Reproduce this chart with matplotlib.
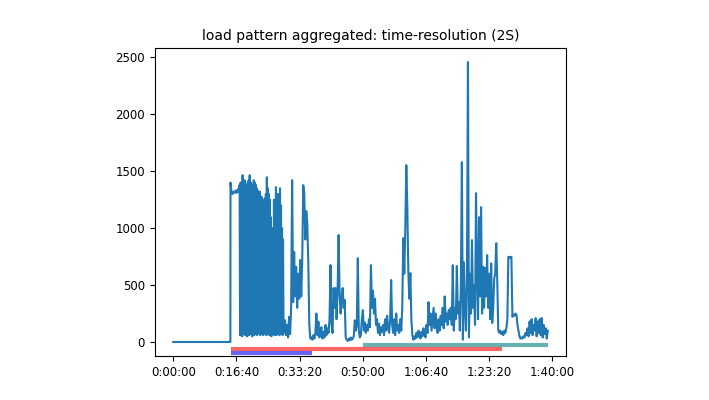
import datetime

import matplotlib
matplotlib.use("Agg")
import matplotlib.pyplot as plt
import matplotlib.ticker as ticker
import numpy as np

# idle period before the load starts (seconds)
idle_start = 0
idle_end = 904

# first plateau, 16 s samples
plateau_start = 906
plateau = [1400, 1310, 1300, 1320, 1310, 1330, 1310, 1340, 1320]

# dense burst, 8 s samples (peak / trough pairs)
burst_start = 1050
burst = [
    1380, 60, 1400, 80, 1350, 50, 1465, 70, 1400, 90,
    1420, 60, 1380, 80, 1350, 50, 1400, 100, 1420, 60,
    1465, 80, 1400, 70, 1380, 50, 1360, 90, 1420, 60,
    1400, 120, 1380, 70, 1350, 60, 1330, 80, 1300, 90,
    1320, 60, 1280, 70, 1270, 100, 1250, 60, 1200, 300,
    1260, 80, 1300, 60, 1447, 70, 1350, 90, 1300, 60,
    1250, 80, 1096, 50, 900, 300, 1000, 70, 1250, 60,
    1200, 90, 1360, 60, 1300, 80, 1250, 70, 1300, 60,
    1350, 100, 1200, 80, 1000, 60, 900, 80,
]

# rest of the run, 16 s samples
tail_start = 1754
tail = [
    80, 190, 60, 150, 40, 220, 70,
    300, 1421, 350, 790, 400, 660, 300, 600, 380, 720,
    400, 720, 1377, 1300, 900, 1150, 1040, 700, 150, 30,
    40, 20, 60, 30, 80, 250, 60, 178, 40, 100,
    130, 30, 90, 40, 150, 60, 120, 80, 200, 675,
    150, 80, 474, 300, 474, 200, 450, 939, 420, 250,
    400, 474, 300, 370, 40, 20, 10, 30, 15, 40,
    20, 30, 50, 190, 100, 150, 737, 100, 40, 60,
    200, 280, 100, 170, 80, 150, 100, 200, 130, 675,
    300, 450, 250, 380, 150, 200, 80, 160, 60, 130,
    90, 150, 60, 200, 100, 230, 120, 80, 200, 544,
    150, 80, 200, 60, 250, 100, 150, 80, 200, 100,
    300, 912, 600, 1000, 1553, 1184, 614, 380, 605, 200,
    60, 20, 50, 30, 80, 40, 100, 60, 30, 90,
    50, 120, 70, 40, 150, 80, 350, 150, 250, 100,
    200, 300, 120, 250, 150, 80, 200, 100, 230, 150,
    300, 120, 400, 180, 250, 150, 280, 200, 300, 150,
    675, 100, 300, 200, 667, 250, 350, 100, 500, 1580,
    20, 700, 300, 100, 550, 2459, 40, 600, 250, 895,
    300, 500, 150, 1307, 600, 200, 1096, 400, 1184, 250,
    660, 300, 650, 400, 763, 300, 600, 200, 690, 167,
    300, 560, 600, 868, 540, 105, 80, 100, 70, 90,
    60, 100, 80, 120, 200, 748, 740, 745, 748, 222,
    240, 230, 250, 240, 150, 100, 50, 30, 40, 30,
    50, 40, 80, 60, 120, 50, 180, 80, 200, 60,
    150, 100, 210, 50, 180, 80, 200, 60, 210, 40,
    150, 70, 120, 30, 100,
]

# phase bars drawn under the curve
phase_start = [2997, 906, 906]
phase_end = [5936, 5205, 2197]
phase_level = [-25, -65, -100]
phase_color = ["teal", "red", "blue"]

t = np.concatenate([
    [idle_start, idle_end],
    plateau_start + 16 * np.arange(len(plateau)),
    burst_start + 8 * np.arange(len(burst)),
    tail_start + 16 * np.arange(len(tail)),
])
y = np.concatenate([[0, 0], plateau, burst, tail])

fig, ax = plt.subplots(figsize=(7.09, 4), dpi=100)
fig.subplots_adjust(left=0.218, right=0.799, bottom=0.11, top=0.88)

ax.plot(t, y, color="#1f77b4", lw=1.5)
xlim = ax.get_xlim()
ylim = ax.get_ylim()

for s, e, lv, c in zip(phase_start, phase_end, phase_level, phase_color):
    ax.hlines(lv, s, e, colors=c, lw=3, alpha=0.6)

ax.set_xlim(xlim)
ax.set_ylim(ylim)

ax.xaxis.set_major_formatter(
    ticker.FuncFormatter(lambda x, pos: str(datetime.timedelta(seconds=int(x)))))
ax.tick_params(labelsize=8.5)
ax.set_title("load pattern aggregated: time-resolution (2S)", fontsize=10)

fig.savefig("out.png")
